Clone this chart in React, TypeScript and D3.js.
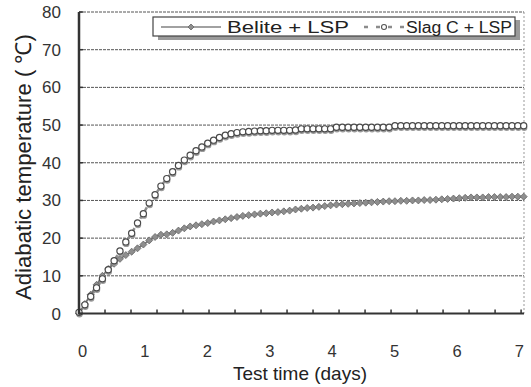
import React from "react";
import * as d3 from "d3";

// time step of the records, in days (2.25 h)
const STEP_DAYS = 0.09375;

const belite: number[] = [
  0, 2.5, 5.0, 7.6, 10.0, 11.8, 13.2, 14.5, 15.5, 16.4,
  17.3, 18.3, 19.4, 20.3, 20.9, 21.0, 21.4, 22.0, 22.6, 23.1,
  23.4, 23.7, 24.0, 24.4, 24.7, 25.0, 25.3, 25.6, 25.9, 26.1,
  26.3, 26.5, 26.6, 26.8, 26.9, 27.1, 27.3, 27.6, 27.8, 28.0,
  28.1, 28.3, 28.5, 28.7, 28.9, 29.0, 29.1, 29.2, 29.3, 29.4,
  29.5, 29.6, 29.7, 29.8, 29.8, 29.9, 29.9, 30.0, 30.0, 30.1,
  30.1, 30.2, 30.3, 30.4, 30.5, 30.6, 30.7, 30.8, 30.8, 30.8,
  30.9, 30.9, 30.9, 30.9, 31.0, 31.0, 31.0,
];

const slag: number[] = [
  0.3, 2.3, 4.5, 6.8, 9.2, 11.6, 14.0, 16.6, 19.0, 21.3,
  24.0, 26.5, 29.3, 31.5, 33.8, 35.8, 37.6, 39.3, 40.7, 42.0,
  43.2, 44.2, 45.2, 46.0, 46.7, 47.3, 47.7, 48.0, 48.2, 48.3,
  48.4, 48.5, 48.5, 48.6, 48.6, 48.6, 48.6, 48.7, 49.0, 49.0,
  49.0, 49.0, 49.0, 49.0, 49.4, 49.4, 49.4, 49.4, 49.4, 49.4,
  49.4, 49.4, 49.4, 49.4, 49.8, 49.8, 49.8, 49.8, 49.8, 49.8,
  49.8, 49.8, 49.8, 49.8, 49.8, 49.8, 49.8, 49.8, 49.8, 49.8,
  49.8, 49.8, 49.8, 49.8, 49.8, 49.8, 49.8,
];

const xTickLabels = ["0", "1", "2", "3", "4", "5", "6", "7"];
const yTickValues = [0, 10, 20, 30, 40, 50, 60, 70, 80];
const minorTickHours = d3.range(10, 171, 10);

const seriesNames = ["Belite + LSP", "Slag C + LSP"];
const xTitle = "Test time (days)";
const yTitle = "Adiabatic temperature ( ℃)";

const FONT = "'Liberation Sans', Arial, Helvetica, sans-serif";

export default function App() {
  const W = 531;
  const H = 387;
  const x = d3.scaleLinear().domain([0, 7.13]).range([79, 524]);
  const y = d3.scaleLinear().domain([0, 80]).range([313.5, 12]);

  const bPts = belite.map((v, i) => [x(i * STEP_DAYS), y(v)] as [number, number]);
  const sPts = slag.map((v, i) => [x(i * STEP_DAYS), y(v)] as [number, number]);
  const line = d3.line<[number, number]>().x((d) => d[0]).y((d) => d[1]);

  const diamond = (cx: number, cy: number, r: number) =>
    `M${cx},${cy - r}L${cx + r},${cy}L${cx},${cy + r}L${cx - r},${cy}Z`;

  const x0 = x(0);
  const x1 = x(7.13);
  const yTop = y(80);
  const yBot = y(0);

  return (
    <svg
      width={W}
      height={H}
      style={{ position: "absolute", left: 0, top: 0, background: "#fff" }}
      fontFamily={FONT}
    >
      <rect x={0} y={0} width={W} height={H} fill="#fff" />
      {/* gridlines */}
      {yTickValues.slice(1).map((v) => (
        <line
          key={"g" + v}
          x1={x0}
          x2={x1}
          y1={y(v)}
          y2={y(v)}
          stroke="#555"
          strokeWidth={1}
          strokeDasharray="3,1"
        />
      ))}
      {/* right border */}
      <line x1={x1} x2={x1} y1={yTop} y2={yBot} stroke="#999" strokeWidth={1} strokeDasharray="2,2" />

      {/* slag dashed line */}
      <path d={line(sPts) || ""} fill="none" stroke="#8c8c8c" strokeWidth={2.5} strokeDasharray="5,3" />
      {/* belite line and markers */}
      <path d={line(bPts) || ""} fill="none" stroke="#777" strokeWidth={1.8} />
      {bPts.map((p, i) => (
        <path key={"b" + i} d={diamond(p[0], p[1], 3.5)} fill="#8e8e8e" stroke="#666" strokeWidth={0.8} />
      ))}
      {/* slag markers: gray shadow then open circles */}
      {sPts.map((p, i) => (
        <circle key={"ss" + i} cx={p[0] + 0.5} cy={p[1] + 2} r={3.2} fill="#9a9a9a" />
      ))}
      {sPts.map((p, i) => (
        <circle key={"s" + i} cx={p[0]} cy={p[1]} r={3.1} fill="#fff" stroke="#4a4a4a" strokeWidth={1.2} />
      ))}

      {/* axes */}
      <line x1={x0} x2={x0} y1={yTop} y2={yBot + 1} stroke="#333" strokeWidth={2.5} />
      <line x1={x0} x2={x1} y1={yBot} y2={yBot} stroke="#333" strokeWidth={2.2} />
      {yTickValues.map((v) => (
        <line key={"yt" + v} x1={x0} x2={x0 + 4} y1={y(v)} y2={y(v)} stroke="#333" strokeWidth={1.5} />
      ))}
      {minorTickHours.map((h) => (
        <line
          key={"mt" + h}
          x1={x(h / 24)}
          x2={x(h / 24)}
          y1={yBot}
          y2={yBot - 4}
          stroke="#333"
          strokeWidth={1.5}
        />
      ))}

      {/* tick labels */}
      {yTickValues.map((v) => (
        <text key={"yl" + v} x={61} y={y(v) + 6} textAnchor="end" fontSize={17} fill="#333">
          {String(v)}
        </text>
      ))}
      {xTickLabels.map((t, i) => (
        <text key={"xl" + t} x={x(i) + 3.5} y={356.5} textAnchor="middle" fontSize={16.5} fill="#333">
          {t}
        </text>
      ))}

      {/* axis titles */}
      <text
        x={233}
        y={380}
        fontSize={18.5}
        fill="#222"
        textLength={134}
        lengthAdjust="spacingAndGlyphs"
      >
        {xTitle}
      </text>
      <text
        transform="translate(31,300) rotate(-90)"
        x={0}
        y={0}
        fontSize={22}
        fill="#222"
        textLength={266}
        lengthAdjust="spacingAndGlyphs"
      >
        {yTitle}
      </text>

      {/* legend */}
      <rect x={158} y={35} width={362} height={5} fill="#9a9a9a" />
      <rect x={515} y={20} width={5} height={20} fill="#9a9a9a" />
      <rect x={153} y={17} width={362} height={19} fill="#fff" stroke="#444" strokeWidth={1.2} />
      <line x1={161} x2={221} y1={27} y2={27} stroke="#444" strokeWidth={1.2} />
      <path d={diamond(191, 27, 3)} fill="#8e8e8e" stroke="#666" strokeWidth={0.8} />
      <text x={227} y={33} fontSize={16} fill="#222" textLength={122} lengthAdjust="spacingAndGlyphs">
        {seriesNames[0]}
      </text>
      <line x1={364} x2={404} y1={27} y2={27} stroke="#8c8c8c" strokeWidth={2.5} strokeDasharray="4,8" />
      <circle cx={384} cy={27} r={2.5} fill="#fff" stroke="#555" strokeWidth={1.1} />
      <text x={406} y={33} fontSize={16} fill="#222" textLength={106} lengthAdjust="spacingAndGlyphs">
        {seriesNames[1]}
      </text>
    </svg>
  );
}
